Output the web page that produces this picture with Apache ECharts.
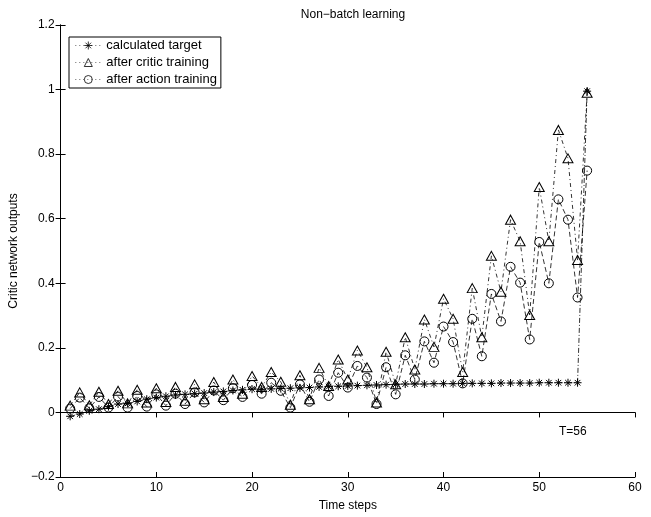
<!DOCTYPE html>
<html>
<head>
  <meta charset="utf-8">
  <title>Non-batch learning</title>
  <script src="https://cdn.jsdelivr.net/npm/echarts@6/dist/echarts.min.js"></script>
  <style>
    html, body { margin: 0; padding: 0; background: #fff; }
    #main { width: 651px; height: 517px; }
  </style>
</head>
<body>
<div id="main"></div>
<script>
  // time steps 1..55
  var steps = [];
  for (var i = 1; i <= 55; i++) steps.push(i);

  var target = [-0.012, -0.005, 0.005, 0.010, 0.018, 0.026, 0.028, 0.034, 0.041, 0.046,
    0.050, 0.054, 0.056, 0.058, 0.060, 0.063, 0.065, 0.068, 0.070, 0.072,
    0.072, 0.073, 0.074, 0.075, 0.076, 0.077, 0.079, 0.080, 0.081, 0.082,
    0.083, 0.084, 0.085, 0.086, 0.087, 0.088, 0.088, 0.088, 0.089, 0.089,
    0.089, 0.090, 0.090, 0.090, 0.090, 0.091, 0.091, 0.091, 0.091, 0.092,
    0.092, 0.092, 0.092, 0.092, 0.995];

  var critic = [0.021, 0.062, 0.022, 0.064, 0.026, 0.067, 0.028, 0.070, 0.031, 0.075,
    0.032, 0.079, 0.036, 0.087, 0.041, 0.094, 0.048, 0.102, 0.058, 0.113,
    0.079, 0.125, 0.095, 0.024, 0.115, 0.041, 0.138, 0.082, 0.164, 0.102,
    0.192, 0.140, 0.031, 0.188, 0.087, 0.233, 0.133, 0.288, 0.203, 0.352,
    0.290, 0.125, 0.385, 0.233, 0.485, 0.374, 0.597, 0.530, 0.302, 0.698,
    0.530, 0.875, 0.787, 0.472, 0.990];

  var action = [0.012, 0.046, 0.013, 0.048, 0.015, 0.049, 0.015, 0.051, 0.018, 0.056,
    0.021, 0.058, 0.026, 0.062, 0.031, 0.068, 0.038, 0.075, 0.048, 0.085,
    0.058, 0.092, 0.067, 0.015, 0.087, 0.033, 0.102, 0.051, 0.123, 0.077,
    0.144, 0.108, 0.026, 0.140, 0.056, 0.177, 0.102, 0.220, 0.154, 0.266,
    0.218, 0.090, 0.290, 0.174, 0.367, 0.282, 0.451, 0.402, 0.226, 0.528,
    0.400, 0.660, 0.597, 0.356, 0.749];

  var seriesNames = ['calculated target', 'after critic training', 'after action training'];

  function pairs(ys) {
    return ys.map(function (y, k) { return [steps[k], y]; });
  }

  var starPath = 'path://M0,-5L0,5M-5,0L5,0M-3.5,-3.5L3.5,3.5M-3.5,3.5L3.5,-3.5';
  var font = 'Liberation Sans, Arial, Helvetica, sans-serif';

  var chart = echarts.init(document.getElementById('main'));

  var markerStyle = { color: 'rgba(255,255,255,0)', borderColor: '#000', borderWidth: 1 };

  var option = {
    animation: false,
    backgroundColor: '#fff',
    title: {
      text: 'Non\u2212batch learning',
      left: 348, top: 4, textAlign: 'center',
      textStyle: { fontFamily: font, fontSize: 12, fontWeight: 'normal', color: '#000' }
    },
    legend: {
      orient: 'vertical',
      left: 69, top: 37,
      itemWidth: 26, itemHeight: 10, itemGap: 4,
      padding: [2, 4, 2, 6],
      borderColor: '#000', borderWidth: 1,
      backgroundColor: '#fff',
      itemStyle: { borderWidth: 0.8 },
      lineStyle: { width: 0.6, type: [1, 3] },
      textStyle: { fontFamily: font, fontSize: 13, color: '#000' },
      data: seriesNames
    },
    grid: { left: 60.5, right: 16, top: 25, bottom: 37 },
    xAxis: [{
      type: 'value', min: 0, max: 60, interval: 10,
      name: 'Time steps', nameLocation: 'middle', nameGap: 23,
      nameTextStyle: { fontFamily: font, fontSize: 12, color: '#000' },
      axisLine: { onZero: false, lineStyle: { color: '#000', width: 1 } },
      axisTick: { inside: true, length: 5, lineStyle: { color: '#000' } },
      axisLabel: { fontFamily: font, fontSize: 12, color: '#000', margin: 5 },
      splitLine: { show: false }
    }, {
      type: 'value', min: 0, max: 60, interval: 10, position: 'top',
      axisLine: { lineStyle: { color: '#000', width: 1 } },
      axisTick: { inside: true, length: 5, lineStyle: { color: '#000' } },
      axisLabel: { show: false },
      splitLine: { show: false }
    }],
    yAxis: [{
      type: 'value', min: -0.2, max: 1.2, interval: 0.2,
      name: 'Critic network outputs', nameLocation: 'middle', nameGap: 37,
      nameTextStyle: { fontFamily: font, fontSize: 12, color: '#000' },
      axisLine: { onZero: false, lineStyle: { color: '#000', width: 1 } },
      axisTick: { inside: true, length: 5, lineStyle: { color: '#000' } },
      axisLabel: {
        fontFamily: font, fontSize: 12, color: '#000', margin: 6,
        formatter: function (v) {
          var s = String(+v.toFixed(1));
          return v < 0 ? '\u2212' + s.slice(1) : s;
        }
      },
      splitLine: { show: false }
    }, {
      type: 'value', min: -0.2, max: 1.2, interval: 0.2, position: 'right',
      axisLine: { lineStyle: { color: '#000', width: 1 } },
      axisTick: { inside: true, length: 5, lineStyle: { color: '#000' } },
      axisLabel: { show: false },
      splitLine: { show: false }
    }],
    graphic: [{
      type: 'text', left: 559, top: 426,
      style: { text: 'T=56', font: '12px ' + font, fill: '#000' }
    }],
    series: [{
      name: seriesNames[0], type: 'line', data: pairs(target),
      symbol: starPath, symbolSize: 8,
      itemStyle: markerStyle,
      lineStyle: { color: '#000', width: 0.8, type: [5, 2, 1, 2] },
      z: 4
    }, {
      name: seriesNames[1], type: 'line', data: pairs(critic),
      symbol: 'triangle', symbolSize: [10, 9],
      itemStyle: markerStyle,
      lineStyle: { color: '#000', width: 0.8, type: [4, 3, 1, 3] },
      z: 3
    }, {
      name: seriesNames[2], type: 'line', data: pairs(action),
      symbol: 'circle', symbolSize: 9,
      itemStyle: markerStyle,
      lineStyle: { color: '#000', width: 0.8, type: [5, 3] },
      z: 2
    }]
  };

  chart.setOption(option);

  window.onresize = function () {
    chart.resize();
  };
</script>
</body>
</html>
